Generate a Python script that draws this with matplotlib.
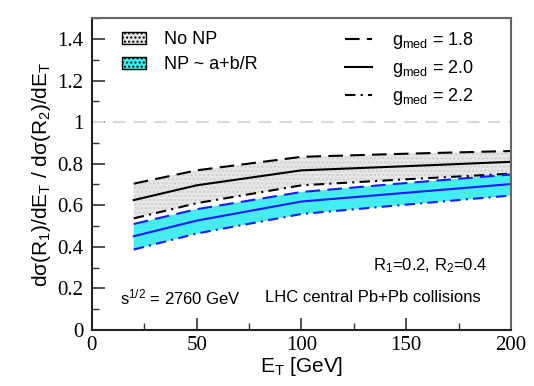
import matplotlib
matplotlib.use('Agg')
import matplotlib.pyplot as plt
from matplotlib.patches import Patch
from matplotlib.lines import Line2D
from matplotlib.ticker import MultipleLocator, FormatStrFormatter

plt.rcParams['font.family'] = 'Liberation Serif'
plt.rcParams['mathtext.fontset'] = 'custom'
plt.rcParams['mathtext.rm'] = 'Liberation Sans'
plt.rcParams['mathtext.it'] = 'Liberation Sans:italic'

# E_T grid and ratio curves
et = [20, 50, 100, 150, 200]
nonp_g18 = [0.704, 0.768, 0.833, 0.848, 0.861]
nonp_g20 = [0.625, 0.696, 0.768, 0.788, 0.809]
nonp_g22 = [0.537, 0.610, 0.696, 0.725, 0.752]
np_g18 = [0.510, 0.581, 0.664, 0.707, 0.748]
np_g20 = [0.451, 0.526, 0.618, 0.660, 0.702]
np_g22 = [0.387, 0.464, 0.558, 0.603, 0.647]

dash = (7, 3.5)
dashdot = (5, 2.5, 1, 2.5)
sans = 'Liberation Sans'

fig = plt.figure(figsize=(5.34, 3.86), dpi=100)
ax = fig.add_axes([0.172, 0.145, 0.785, 0.808])

ax.fill_between(et, nonp_g22, nonp_g18, facecolor='#e6e6e6', edgecolor='#cfcfcf',
                hatch='....', linewidth=0)
ax.fill_between(et, np_g22, np_g18, facecolor='#33f3f3', edgecolor='#7fd8e8',
                hatch='....', linewidth=0)

ax.axhline(1.0, color='#d8d8d8', lw=1.5, dashes=(6, 4))

ax.plot(et, nonp_g18, color='black', lw=1.5, dashes=dash)
ax.plot(et, nonp_g20, color='black', lw=1.5)
ax.plot(et, nonp_g22, color='black', lw=1.5, dashes=dashdot)
ax.plot(et, np_g18, color='#1a1aff', lw=1.5, dashes=dash)
ax.plot(et, np_g20, color='#1a1aff', lw=1.5)
ax.plot(et, np_g22, color='#1a1aff', lw=1.5, dashes=dashdot)

ax.set_xlim(0, 200)
ax.set_ylim(0, 1.5)
ax.xaxis.set_major_locator(MultipleLocator(50))
ax.xaxis.set_minor_locator(MultipleLocator(25))
ax.yaxis.set_major_locator(MultipleLocator(0.2))
ax.yaxis.set_minor_locator(MultipleLocator(0.1))
ax.yaxis.set_major_formatter(FormatStrFormatter('%g'))
ax.tick_params(which='both', direction='in', labelsize=15, top=False, right=False)
ax.tick_params(which='major', length=9, width=1.2, colors='#333333', labelcolor='black')
ax.tick_params(which='minor', length=5, width=1.0, colors='#333333')
ax.tick_params(axis='x', pad=4)
ax.tick_params(axis='y', pad=6)
for side in ['left', 'bottom']:
    ax.spines[side].set_linewidth(1.5)
    ax.spines[side].set_color('#222222')
for side in ['right', 'top']:
    ax.spines[side].set_linewidth(1.5)
    ax.spines[side].set_color('#666666')

ax.set_xlabel(r'E$_\mathrm{T}$ [GeV]', family=sans, fontsize=15, labelpad=0)
ax.set_ylabel(r'dσ(R$_1$)/dE$_\mathrm{T}$ / dσ(R$_2$)/dE$_\mathrm{T}$',
              family=sans, fontsize=15, labelpad=3)

band_handles = [
    Patch(facecolor='#e6e6e6', edgecolor='black', hatch='....', label='No NP'),
    Patch(facecolor='#33f3f3', edgecolor='black', hatch='....', label='NP ~ a+b/R'),
]
leg1 = ax.legend(handles=band_handles, loc='upper left', bbox_to_anchor=(0.072, 0.958),
                 frameon=False, prop={'family': sans, 'size': 13}, handlelength=1.3,
                 handleheight=0.6, handletextpad=1.05, labelspacing=0.45,
                 borderpad=0, borderaxespad=0)
ax.add_artist(leg1)

line_handles = [
    Line2D([], [], color='black', lw=1.5, dashes=dash, label=r'g$_\mathrm{med}$ = 1.8'),
    Line2D([], [], color='black', lw=1.5, label=r'g$_\mathrm{med}$ = 2.0'),
    Line2D([], [], color='black', lw=1.5, dashes=dashdot, label=r'g$_\mathrm{med}$ = 2.2'),
]
ax.legend(handles=line_handles, loc='upper left', bbox_to_anchor=(0.604, 0.962),
          frameon=False, prop={'family': sans, 'size': 13}, handlelength=1.5,
          handletextpad=1.1, labelspacing=0.4, borderpad=0, borderaxespad=0)

ax.text(0.945, 0.206, r'R$_1$=0.2, R$_2$=0.4', transform=ax.transAxes,
        family=sans, fontsize=12, ha='right', va='center')
ax.text(0.067, 0.103, r's$^{1/2}$ = 2760 GeV', transform=ax.transAxes,
        family=sans, fontsize=12, ha='left', va='center')
ax.text(0.413, 0.103, 'LHC central Pb+Pb collisions', transform=ax.transAxes,
        family=sans, fontsize=12, ha='left', va='center')

fig.savefig('out.png', dpi=100)
